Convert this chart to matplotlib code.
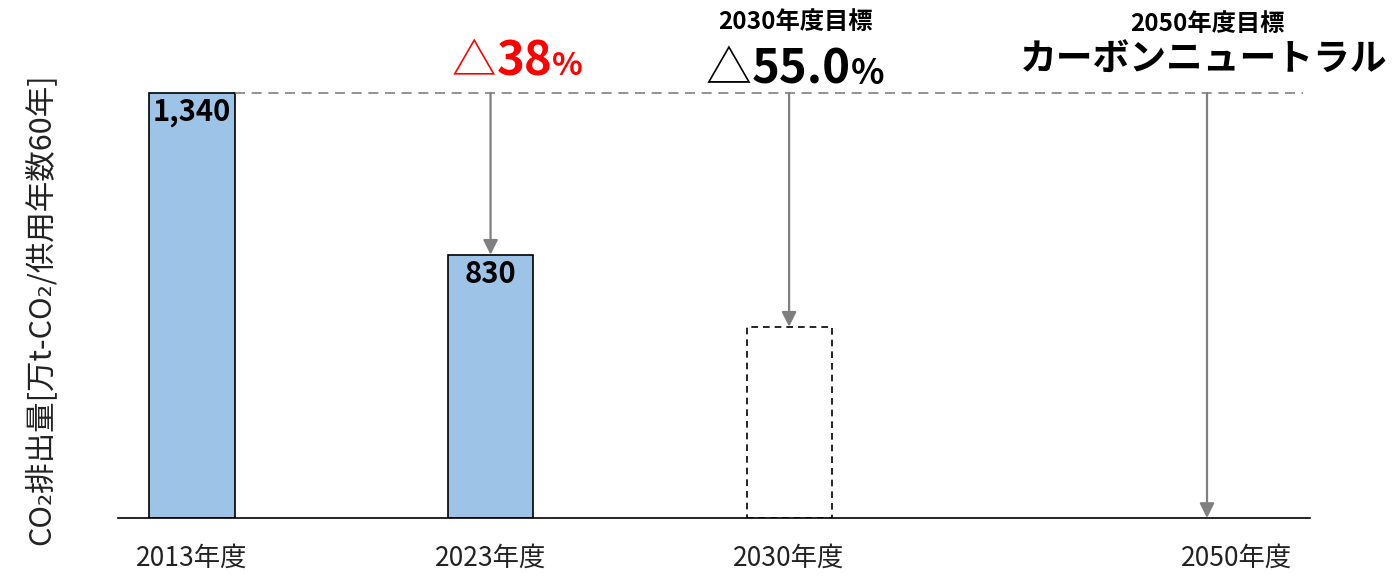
import matplotlib
matplotlib.use("Agg")
import matplotlib.pyplot as plt
from matplotlib.offsetbox import TextArea, HPacker, AnnotationBbox

plt.rcParams['font.family'] = ['Noto Sans CJK JP', 'DejaVu Sans']

# data
years = ['2013年度', '2023年度', '2030年度', '2050年度']
xpos = [0, 1, 2, 3.4]
tick_pos = [0, 1, 2, 3.5]
actual = [1340, 830]
target_2030 = 603
bar_labels = ['1,340', '830']

fig = plt.figure(figsize=(13.96, 5.81), dpi=100)
ax = fig.add_axes([118 / 1396, 63 / 581, 1192 / 1396, 518 / 581])

w = 0.285
ax.bar(xpos[:2], actual, width=w, color='#9dc3e6', edgecolor='black', linewidth=1.2)
ax.bar(xpos[2], target_2030, width=w, color='white', edgecolor='black',
       linewidth=1.2, linestyle=(0, (4, 3)))

for x, v, s in zip(xpos, actual, bar_labels):
    ax.annotate(s, (x, v), xytext=(0, -3), textcoords='offset points',
                ha='center', va='top', fontsize=21, fontweight='bold')

# baseline 2013 level
ax.plot([xpos[0] + w / 2, xpos[3] + 0.32], [actual[0], actual[0]],
        color='#808080', lw=1.2, ls=(0, (6, 4)), zorder=1)

# arrows down from 2013 level
arrow_to = [actual[1], target_2030, 0]
for x, v in zip(xpos[1:], arrow_to):
    ax.annotate('', xy=(x, v), xytext=(x, actual[0]),
                arrowprops=dict(arrowstyle='-|>', color='#7f7f7f', lw=1.6,
                                mutation_scale=22, shrinkA=0, shrinkB=0))


def packed(parts, x, y):
    boxes = [TextArea(t, textprops=p) for t, p in parts]
    box = HPacker(children=boxes, align='baseline', pad=0, sep=0)
    ab = AnnotationBbox(box, (x, y), box_alignment=(0.5, 0), frameon=False,
                        xycoords='data')
    ax.add_artist(ab)


packed([('△', dict(fontsize=32, color='#ff0000')),
        ('38', dict(fontsize=34, color='#ff0000', fontweight='bold')),
        ('%', dict(fontsize=23, color='#ff0000', fontweight='bold'))],
       xpos[1] + 0.09, 1365)

ax.text(xpos[2] + 0.02, 1564, '2030年度目標', ha='center', va='center',
        fontsize=17.5, fontweight='bold')
packed([('△', dict(fontsize=33, color='black')),
        ('55.0', dict(fontsize=34, color='black', fontweight='bold')),
        ('%', dict(fontsize=25, color='black', fontweight='bold'))],
       xpos[2] + 0.02, 1335)

ax.text(xpos[3], 1557, '2050年度目標', ha='center', va='center',
        fontsize=17.5, fontweight='bold')
ax.text(xpos[3] - 0.01, 1444, 'カーボンニュートラル', ha='center', va='center',
        fontsize=26.5, fontweight='bold')

ax.set_xlim(-0.248, 3.745)
ax.set_ylim(0, 1633)
ax.set_xticks(tick_pos)
ax.set_xticklabels(years, fontsize=19, color='#222222')
ax.tick_params(axis='x', length=0, pad=19)
ax.set_yticks([])
for s in ['top', 'right', 'left']:
    ax.spines[s].set_visible(False)
ax.spines['bottom'].set_linewidth(1.2)

fig.text(40 / 1396, 1 - 309 / 581, 'CO₂排出量[万t-CO₂/供用年数60年]',
         rotation=90, ha='center', va='center', fontsize=22, color='#222222')

fig.savefig('out.png', dpi=100)
